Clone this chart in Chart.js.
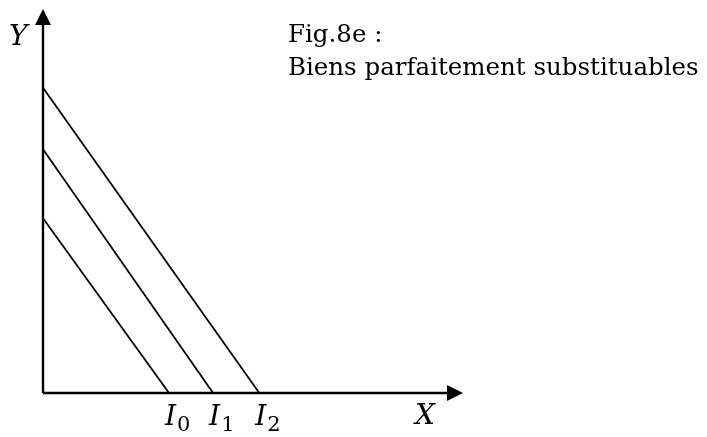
<!DOCTYPE html>
<html>
<head>
<meta charset="utf-8">
<script src="https://cdn.jsdelivr.net/npm/chart.js@4/dist/chart.umd.min.js"></script>
<style>
  html, body { margin: 0; padding: 0; background: #fff; }
  #wrap { width: 707px; height: 437px; }
</style>
</head>
<body>
<div id="wrap"><canvas id="chart"></canvas></div>
<script>
// indifference lines: X intercept and Y intercept (arbitrary units 0..100)
const curveNames = ['I0', 'I1', 'I2'];
const xIntercepts = [30, 40.5, 51.5];
const yIntercepts = [45.5, 63.5, 79.5];
const subscripts = ['0', '1', '2'];
const titleLines = ['Fig.8e :', 'Biens parfaitement substituables'];

const datasets = curveNames.map((name, i) => ({
  label: name,
  data: [{x: 0, y: yIntercepts[i]}, {x: xIntercepts[i], y: 0}],
  showLine: true,
  borderColor: '#000',
  borderWidth: 1.8,
  pointRadius: 0,
  fill: false,
  clip: false
}));

const axesPlugin = {
  id: 'econAxes',
  afterDraw(chart) {
    const ctx = chart.ctx;
    const a = chart.chartArea;
    const xs = chart.scales.x;
    ctx.save();
    ctx.strokeStyle = '#000';
    ctx.fillStyle = '#000';
    ctx.lineWidth = 2.4;
    // y axis
    ctx.beginPath();
    ctx.moveTo(a.left, a.bottom);
    ctx.lineTo(a.left, a.top + 14);
    ctx.stroke();
    ctx.beginPath();
    ctx.moveTo(a.left, a.top);
    ctx.lineTo(a.left - 8, a.top + 16);
    ctx.lineTo(a.left + 8, a.top + 16);
    ctx.closePath();
    ctx.fill();
    // x axis
    ctx.beginPath();
    ctx.moveTo(a.left, a.bottom);
    ctx.lineTo(a.right - 14, a.bottom);
    ctx.stroke();
    ctx.beginPath();
    ctx.moveTo(a.right, a.bottom);
    ctx.lineTo(a.right - 16, a.bottom - 8);
    ctx.lineTo(a.right - 16, a.bottom + 8);
    ctx.closePath();
    ctx.fill();

    // axis labels
    ctx.textBaseline = 'alphabetic';
    ctx.textAlign = 'left';
    ctx.font = 'italic 28px "DejaVu Serif"';
    ctx.fillText('Y', 9, 45);
    ctx.fillText('X', 415, 424);

    // curve labels I0, I1, I2
    curveNames.forEach((n, i) => {
      const px = xs.getPixelForValue(xIntercepts[i]) - 4;
      ctx.font = 'italic 28px "DejaVu Serif"';
      ctx.fillText('I', px, 425);
      const w = ctx.measureText('I').width;
      ctx.font = '21px "DejaVu Serif"';
      ctx.fillText(subscripts[i], px + w + 1, 431);
    });

    // title text
    ctx.font = '22px "DejaVu Serif"';
    const target = 411;
    const mw = ctx.measureText(titleLines[1]).width;
    const size = Math.max(18, Math.min(26, 22 * target / mw));
    ctx.font = size.toFixed(1) + 'px "DejaVu Serif"';
    ctx.fillText(titleLines[0], 288, 42);
    ctx.fillText(titleLines[1], 288, 75);
    ctx.restore();
  }
};

new Chart(document.getElementById('chart'), {
  type: 'scatter',
  data: {datasets},
  options: {
    responsive: true,
    maintainAspectRatio: false,
    animation: false,
    layout: {padding: {left: 43, right: 244, top: 9, bottom: 44}},
    scales: {
      x: {type: 'linear', min: 0, max: 100, display: false},
      y: {type: 'linear', min: 0, max: 100, display: false}
    },
    plugins: {
      legend: {display: false},
      tooltip: {enabled: false}
    }
  },
  plugins: [axesPlugin]
});
</script>
</body>
</html>
